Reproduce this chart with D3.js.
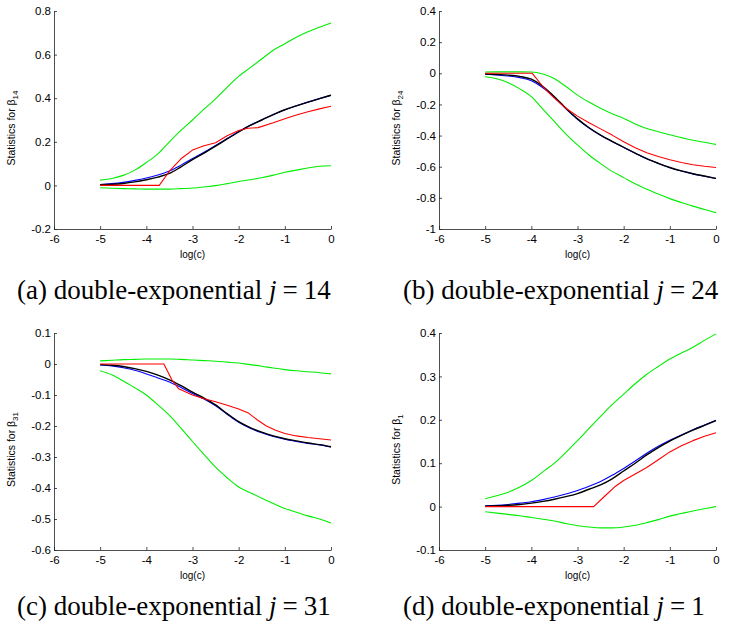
<!DOCTYPE html>
<html>
<head>
<meta charset="utf-8">
<script src="https://cdn.jsdelivr.net/npm/d3@7"></script>
<style>
html,body{margin:0;padding:0;background:#fff;}
svg{display:block;}
</style>
</head>
<body>
<svg id="chart" width="733" height="631"></svg>
<script>
// ---------- DATA ----------
const xGrid = [-5,-4.75,-4.5,-4.25,-4,-3.75,-3.5,-3.25,-3,-2.75,-2.5,-2.25,-2,-1.75,-1.5,-1.25,-1,-0.75,-0.5,-0.25,0];
const xTicks = [-6,-5,-4,-3,-2,-1,0];

// panel (a) j = 14
const yTicksA = [-0.2,0,0.2,0.4,0.6,0.8];
const greenUpA = [0.024,0.032,0.046,0.07,0.105,0.145,0.2,0.252,0.30,0.35,0.397,0.45,0.50,0.54,0.58,0.62,0.65,0.68,0.705,0.725,0.745];
const greenLoA = [-0.011,-0.013,-0.015,-0.016,-0.017,-0.017,-0.017,-0.015,-0.012,-0.007,-0.001,0.008,0.018,0.026,0.035,0.047,0.06,0.07,0.08,0.088,0.09];
const blackA = [0.003,0.005,0.009,0.016,0.026,0.038,0.055,0.085,0.118,0.148,0.18,0.213,0.245,0.275,0.30,0.325,0.347,0.365,0.382,0.398,0.414];
const blueA = [0.004,0.008,0.014,0.023,0.034,0.048,0.066,0.093,0.123,0.152,0.183,0.215,0.247,0.276,0.301,0.325,0.347,0.365,0.382,0.398,0.413];
const redXA = [-5,-3.72,-3.5,-3.25,-3,-2.75,-2.5,-2.25,-2,-1.8,-1.58,-1.25,-1,-0.75,-0.5,-0.25,0];
const redA = [0,0,0.065,0.122,0.162,0.182,0.196,0.228,0.252,0.262,0.265,0.287,0.306,0.323,0.338,0.351,0.363];

// panel (b) j = 24
const yTicksB = [-1,-0.8,-0.6,-0.4,-0.2,0,0.2,0.4];
const greenUpB = [0.008,0.009,0.009,0.009,0.008,-0.005,-0.035,-0.085,-0.14,-0.185,-0.225,-0.26,-0.29,-0.325,-0.354,-0.375,-0.395,-0.413,-0.43,-0.443,-0.457];
const greenLoB = [-0.022,-0.035,-0.06,-0.1,-0.15,-0.23,-0.31,-0.39,-0.46,-0.525,-0.58,-0.63,-0.67,-0.71,-0.745,-0.775,-0.805,-0.83,-0.853,-0.875,-0.895];
const blackB = [-0.005,-0.008,-0.012,-0.02,-0.038,-0.085,-0.15,-0.225,-0.293,-0.35,-0.397,-0.437,-0.475,-0.512,-0.548,-0.578,-0.605,-0.627,-0.645,-0.66,-0.675];
const blueB = [-0.006,-0.011,-0.017,-0.028,-0.048,-0.093,-0.155,-0.228,-0.295,-0.351,-0.398,-0.438,-0.476,-0.513,-0.549,-0.579,-0.606,-0.628,-0.646,-0.661,-0.676];
const redXB = [-5,-3.98,-3.75,-3.6,-3.5,-3.25,-3,-2.75,-2.5,-2.25,-2,-1.75,-1.5,-1.25,-1,-0.75,-0.5,-0.25,0];
const redB = [0,0,-0.085,-0.13,-0.16,-0.225,-0.275,-0.318,-0.357,-0.397,-0.44,-0.478,-0.51,-0.535,-0.555,-0.573,-0.587,-0.597,-0.605];

// panel (c) j = 31
const yTicksC = [-0.6,-0.5,-0.4,-0.3,-0.2,-0.1,0,0.1];
const greenUpC = [0.01,0.012,0.014,0.015,0.016,0.016,0.016,0.015,0.013,0.011,0.009,0.006,0.003,-0.002,-0.007,-0.013,-0.018,-0.022,-0.025,-0.028,-0.032];
const greenLoC = [-0.022,-0.035,-0.055,-0.077,-0.1,-0.132,-0.166,-0.207,-0.25,-0.292,-0.333,-0.367,-0.397,-0.415,-0.433,-0.45,-0.466,-0.478,-0.49,-0.5,-0.513];
const blackC = [-0.002,-0.004,-0.008,-0.015,-0.024,-0.036,-0.051,-0.07,-0.091,-0.11,-0.132,-0.16,-0.186,-0.205,-0.22,-0.232,-0.241,-0.248,-0.255,-0.26,-0.267];
const blueC = [-0.003,-0.006,-0.012,-0.02,-0.032,-0.045,-0.058,-0.076,-0.095,-0.113,-0.135,-0.162,-0.188,-0.207,-0.222,-0.234,-0.243,-0.25,-0.256,-0.261,-0.268];
const redXC = [-5,-3.62,-3.45,-3.3,-3,-2.75,-2.5,-2.25,-2,-1.8,-1.6,-1.4,-1.2,-1,-0.75,-0.5,-0.25,0];
const redC = [0,0,-0.05,-0.08,-0.1,-0.112,-0.122,-0.133,-0.145,-0.157,-0.18,-0.2,-0.214,-0.224,-0.232,-0.237,-0.241,-0.245];

// panel (d) j = 1
const yTicksD = [-0.1,0,0.1,0.2,0.3,0.4];
const greenUpD = [0.018,0.025,0.033,0.045,0.06,0.08,0.10,0.125,0.152,0.18,0.208,0.235,0.259,0.283,0.305,0.323,0.34,0.354,0.367,0.383,0.398];
const greenLoD = [-0.012,-0.015,-0.018,-0.021,-0.025,-0.029,-0.033,-0.039,-0.044,-0.047,-0.049,-0.049,-0.047,-0.043,-0.037,-0.03,-0.022,-0.016,-0.01,-0.005,0.0];
const blackD = [0.001,0.002,0.003,0.005,0.008,0.012,0.017,0.023,0.03,0.04,0.05,0.064,0.082,0.1,0.119,0.136,0.151,0.164,0.176,0.187,0.198];
const blueD = [0.002,0.003,0.005,0.008,0.011,0.016,0.022,0.029,0.037,0.047,0.058,0.072,0.088,0.105,0.123,0.139,0.153,0.165,0.177,0.188,0.199];
const redXD = [-5,-2.65,-2.4,-2.2,-2,-1.75,-1.5,-1.25,-1,-0.75,-0.5,-0.25,0];
const redD = [0,0,0.025,0.045,0.06,0.075,0.09,0.108,0.126,0.14,0.152,0.162,0.17];

const panels = [
  {letter:"a", j:"14", sub:"14", yTicks:yTicksA, gu:greenUpA, gl:greenLoA, bk:blackA, bl:blueA, rx:redXA, rd:redA},
  {letter:"b", j:"24", sub:"24", yTicks:yTicksB, gu:greenUpB, gl:greenLoB, bk:blackB, bl:blueB, rx:redXB, rd:redB},
  {letter:"c", j:"31", sub:"31", yTicks:yTicksC, gu:greenUpC, gl:greenLoC, bk:blackC, bl:blueC, rx:redXC, rd:redC},
  {letter:"d", j:"1",  sub:"1",  yTicks:yTicksD, gu:greenUpD, gl:greenLoD, bk:blackD, bl:blueD, rx:redXD, rd:redD}
];

// ---------- LAYOUT ----------
const layout = [
  {left:54,  top:11,  bottom:229, capX:17,  capY:299},
  {left:439, top:11,  bottom:229, capX:403, capY:299},
  {left:54,  top:333, bottom:550, capX:17,  capY:615},
  {left:439, top:333, bottom:550, capX:403, capY:615}
];
const plotW = 277;

const svg = d3.select("#chart");

panels.forEach((p, i) => {
  const L = layout[i];
  const x = d3.scaleLinear().domain([xTicks[0], xTicks[xTicks.length-1]]).range([L.left, L.left + plotW]);
  const y = d3.scaleLinear().domain([p.yTicks[0], p.yTicks[p.yTicks.length-1]]).range([L.bottom, L.top]);
  const g = svg.append("g");

  const smooth = d3.line().curve(d3.curveMonotoneX).x(d => x(d[0])).y(d => y(d[1]));
  const straight = d3.line().x(d => x(d[0])).y(d => y(d[1]));
  const pairs = (xs, ys) => xs.map((v, k) => [v, ys[k]]);

  const series = [
    {d: pairs(xGrid, p.gu), c:"#00ee00", w:1.1, ln:smooth},
    {d: pairs(xGrid, p.gl), c:"#00ee00", w:1.1, ln:smooth},
    {d: pairs(xGrid, p.bl), c:"#0000ff", w:1.1, ln:smooth},
    {d: pairs(xGrid, p.bk), c:"#000000", w:1.4, ln:smooth},
    {d: pairs(p.rx, p.rd), c:"#ff0000", w:1.1, ln:straight}
  ];
  series.forEach(s => {
    g.append("path").attr("d", s.ln(s.d)).attr("fill","none")
      .attr("stroke", s.c).attr("stroke-width", s.w).attr("stroke-linejoin","round");
  });

  const ax = g.append("g").attr("transform", `translate(0,${L.bottom})`)
    .call(d3.axisBottom(x).tickValues(xTicks).tickFormat(d => String(d)).tickSizeInner(-3).tickSizeOuter(0).tickPadding(6));
  const ay = g.append("g").attr("transform", `translate(${L.left},0)`)
    .call(d3.axisLeft(y).tickValues(p.yTicks).tickFormat(d => String(d)).tickSizeInner(-3).tickSizeOuter(0).tickPadding(3));
  [ax, ay].forEach(a => {
    a.selectAll("path.domain").attr("stroke","#222").attr("stroke-width",0.8);
    a.selectAll(".tick line").attr("stroke","#222").attr("stroke-width",0.8);
    a.selectAll(".tick text").attr("font-family","'Liberation Sans', Arial, sans-serif").attr("font-size",11.5).attr("fill","#000");
  });

  // x label
  g.append("text").attr("x", L.left + plotW/2).attr("y", L.bottom + 29)
    .attr("text-anchor","middle").attr("font-family","'Liberation Sans', Arial, sans-serif")
    .attr("font-size",10).text("log(c)");

  // y label
  const yl = g.append("text")
    .attr("transform", `translate(${L.left - 39},${(L.top + L.bottom)/2 + 8}) rotate(-90)`)
    .attr("text-anchor","middle").attr("font-family","'Liberation Sans', Arial, sans-serif")
    .attr("font-size",10.5);
  yl.append("tspan").text("Statistics for β");
  yl.append("tspan").attr("font-size",8).attr("dy",3).text(p.sub);

  // caption
  const cap = g.append("text").attr("x", L.capX).attr("y", L.capY)
    .attr("text-anchor","start").attr("font-family","'Liberation Serif', 'Times New Roman', serif")
    .attr("font-size",27);
  cap.append("tspan").text(`(${p.letter}) double-exponential `);
  cap.append("tspan").attr("font-style","italic").text("j");
  cap.append("tspan").attr("dx",6).text("=");
  cap.append("tspan").attr("dx",6).text(p.j);
});
</script>
</body>
</html>
